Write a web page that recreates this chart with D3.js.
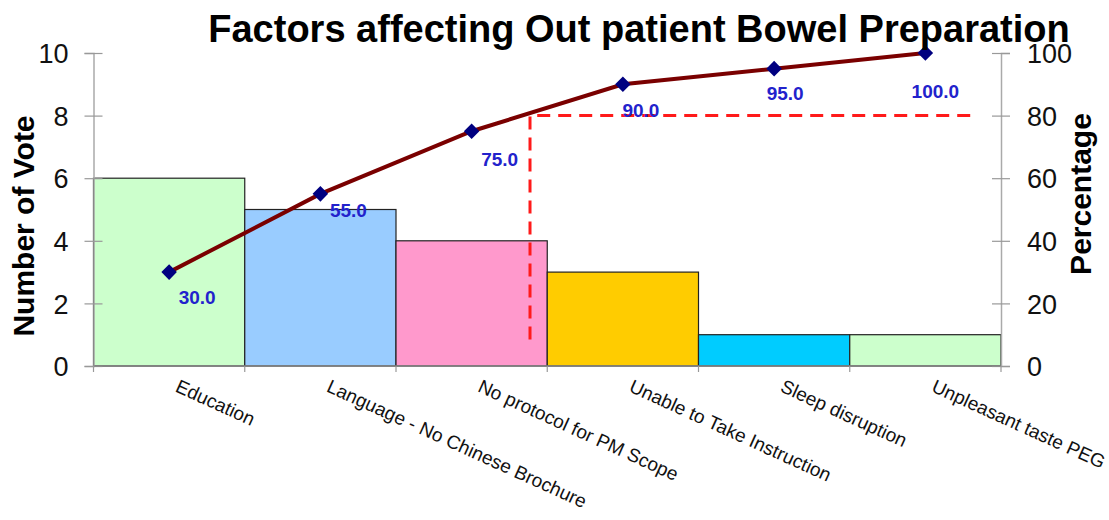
<!DOCTYPE html>
<html><head><meta charset="utf-8">
<script src="https://cdn.jsdelivr.net/npm/d3@7/dist/d3.min.js"></script>
<style>body{margin:0;background:#fff}svg{display:block}text{font-family:"Liberation Sans",Arial,sans-serif}</style>
</head><body><svg id="c" width="1109" height="520"></svg>
<script>
const categories = ["Education","Language - No Chinese Brochure","No protocol for PM Scope","Unable to Take Instruction","Sleep disruption","Unpleasant taste PEG"];
const votes = [6,5,4,3,1,1];
const cumulativePct = [30,55,75,90,95,100];
const pctLabels = ["30.0","55.0","75.0","90.0","95.0","100.0"];
const barColors = ["#ccffcc","#99ccff","#ff99cc","#ffcc00","#00ccff","#ccffcc"];
const leftTicks = [0,2,4,6,8,10];
const rightTicks = [0,20,40,60,80,100];
const cutoffPct = 80;
const cutoffCategoryPos = 2.886; // position along category axis (in bands) of vertical cutoff
// label placement offsets (layout only)
const labelDx = [28,28,28,18,11,10];
const labelDy = [32,23,35,33,31,45];

const svg = d3.select("#c");
const L = 93.5, R = 1001, T = 53, B = 366;
const x = d3.scaleBand().domain(categories).range([L,R]).paddingInner(0).paddingOuter(0);
const y = d3.scaleLinear().domain([0,10]).range([B,T]);
const yp = d3.scaleLinear().domain([0,100]).range([B,T]);

// bars
svg.selectAll("rect.bar").data(categories).join("rect")
  .attr("x", d=>x(d)).attr("y", (d,i)=>y(votes[i]))
  .attr("width", x.bandwidth()).attr("height", (d,i)=>B-y(votes[i]))
  .attr("fill",(d,i)=>barColors[i]).attr("stroke","#222").attr("stroke-width",1.2);

// axes
const gL = svg.append("g").attr("transform",`translate(${L},0)`)
  .call(d3.axisLeft(y).tickValues(leftTicks).tickSize(9).tickPadding(16));
const gR = svg.append("g").attr("transform",`translate(${R},0)`)
  .call(d3.axisRight(yp).tickValues(rightTicks).tickSize(9).tickPadding(17));
[gL,gR].forEach(g=>{
  g.select(".domain").attr("stroke","#aaa").attr("stroke-width",1.5);
  g.selectAll(".tick line").attr("stroke","#999").attr("stroke-width",1.2);
  g.selectAll(".tick text").attr("font-size",27).attr("fill","#111").attr("font-family","Liberation Sans, Arial, sans-serif");
});
gL.selectAll(".tick line").attr("x1",9).attr("x2",-9);
gR.selectAll(".tick line").attr("x1",-9).attr("x2",9);
gL.selectAll(".tick text").attr("dy","0.36em");
gR.selectAll(".tick text").attr("dy","0.36em");

// bottom axis
svg.append("line").attr("x1",L).attr("x2",R).attr("y1",B).attr("y2",B).attr("stroke","#888").attr("stroke-width",1.5);
const bounds = categories.map(c=>x(c)).concat([R]);
svg.selectAll("line.bt").data(bounds).join("line")
  .attr("x1",d=>d).attr("x2",d=>d).attr("y1",B).attr("y2",B+6).attr("stroke","#999").attr("stroke-width",1.2);

// category labels
svg.selectAll("text.cat").data(categories).join("text")
  .attr("transform",d=>`translate(${x(d)+x.bandwidth()/2+5},${B+25}) rotate(24.5)`)
  .attr("font-size",19).attr("fill","#111").text(d=>d);

// cutoff dashed lines
const cx = L + cutoffCategoryPos*x.bandwidth();
svg.append("path")
  .attr("d",`M${cx},${yp(8.5)} L${cx},${yp(cutoffPct)} L${R-24},${yp(cutoffPct)}`)
  .attr("fill","none").attr("stroke","#ff1a1a").attr("stroke-width",3).attr("stroke-dasharray","13,8");

// pareto line
const line = d3.line().x((d,i)=>x(categories[i])+x.bandwidth()/2).y(d=>yp(d));
svg.append("path").datum(cumulativePct).attr("d",line)
  .attr("fill","none").attr("stroke","#7a0000").attr("stroke-width",4);
svg.selectAll("rect.mk").data(cumulativePct).join("rect")
  .attr("x",-5.5).attr("y",-5.5).attr("width",11).attr("height",11)
  .attr("transform",(d,i)=>`translate(${x(categories[i])+x.bandwidth()/2},${yp(d)}) rotate(45)`)
  .attr("fill","#000080");
svg.selectAll("text.pl").data(pctLabels).join("text")
  .attr("x",(d,i)=>x(categories[i])+x.bandwidth()/2+labelDx[i])
  .attr("y",(d,i)=>yp(cumulativePct[i])+labelDy[i])
  .attr("text-anchor","middle").attr("font-size",19).attr("font-weight","bold").attr("fill","#2222cc").text(d=>d);

// titles
svg.append("text").attr("x",639).attr("y",42).attr("text-anchor","middle")
  .attr("font-size",38).attr("font-weight","bold").attr("fill","#000")
  .text("Factors affecting Out patient Bowel Preparation");
svg.append("text").attr("transform","translate(34,226) rotate(-90)").attr("text-anchor","middle")
  .attr("font-size",30).attr("font-weight","bold").attr("fill","#000").text("Number of Vote");
svg.append("text").attr("transform","translate(1091,194) rotate(-90)").attr("text-anchor","middle")
  .attr("font-size",30).attr("font-weight","bold").attr("fill","#000").text("Percentage");
</script></body></html>
